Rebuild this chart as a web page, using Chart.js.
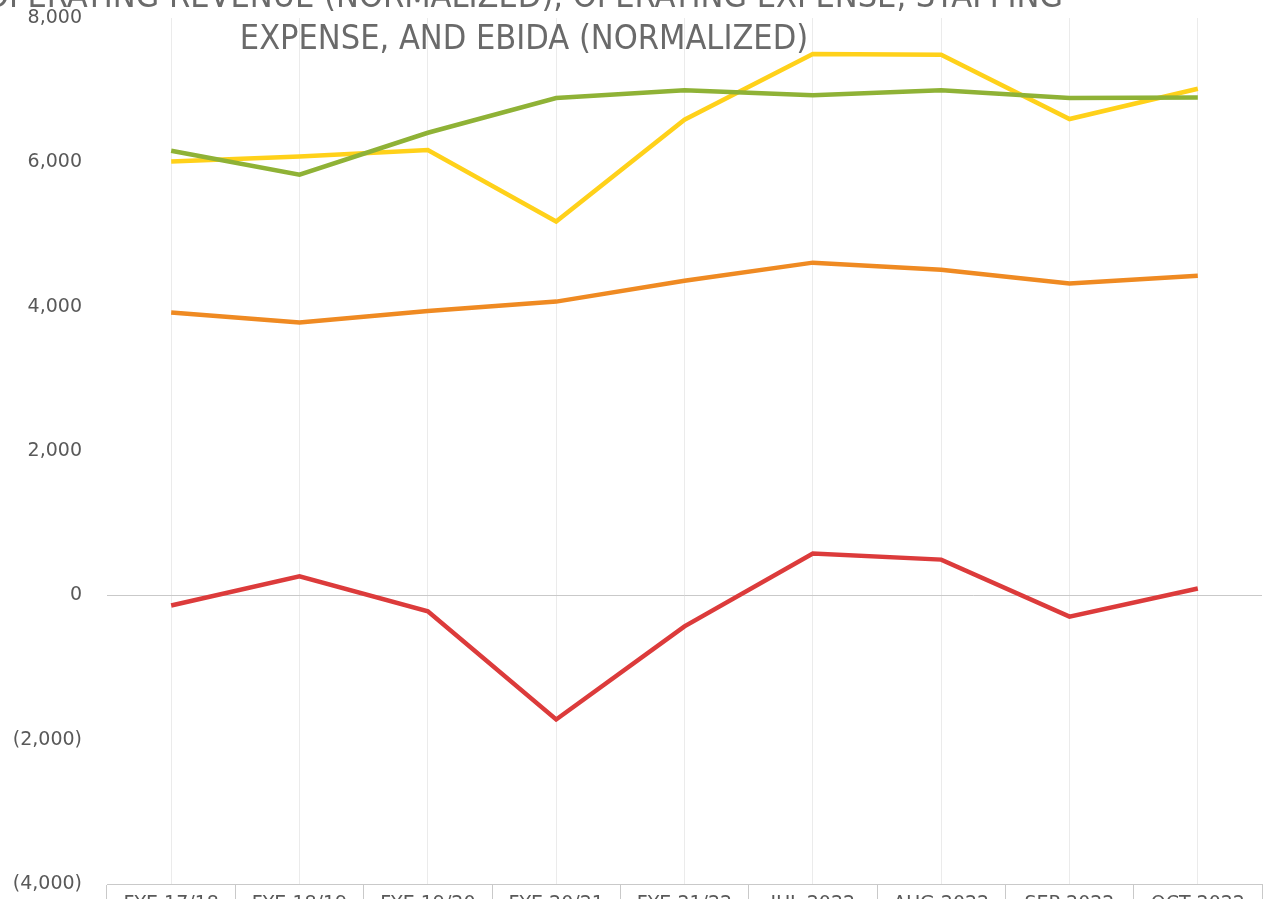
<!DOCTYPE html>
<html>
<head>
<meta charset="utf-8">
<script src="https://cdn.jsdelivr.net/npm/chart.js@4.4.1/dist/chart.umd.min.js"></script>
<style>
  html, body { margin: 0; padding: 0; background: #fff; overflow: hidden; }
  #wrap { position: relative; width: 1269px; height: 899px; overflow: hidden; }
  #title {
    position: absolute; top: -26px; left: -176px; width: 1400px;
    text-align: center; line-height: 42px;
    font-family: "Liberation Sans Narrow", "DejaVu Sans Condensed", sans-serif;
    font-size: 34px; color: #6a6a6a; white-space: nowrap;
  }
  canvas { position: absolute; top: 0; left: 0; }
</style>
</head>
<body>
<div id="wrap">
  <canvas id="chart" width="1269" height="920"></canvas>
  <div id="title">OPERATING REVENUE (NORMALIZED), OPERATING EXPENSE, STAFFING<br>EXPENSE, AND EBIDA (NORMALIZED)</div>
</div>
<script>
  // categories + series
  var periods = ['FYE 17/18', 'FYE 18/19', 'FYE 19/20', 'FYE 20/21', 'FYE 21/22',
                 'JUL 2022', 'AUG 2022', 'SEP 2022', 'OCT 2022'];
  var revenue  = [6010, 6080, 6170, 5180, 6590, 7500, 7490, 6600, 7020];
  var opExpense = [6160, 5830, 6410, 6890, 7000, 6930, 7000, 6890, 6900];
  var staffing = [3920, 3780, 3940, 4070, 4360, 4610, 4510, 4320, 4430];
  var ebida    = [-140, 265, -220, -1720, -430, 580, 495, -295, 95];
  var yTicks   = [-4000, -2000, 0, 2000, 4000, 6000, 8000];

  var labelFont = { family: 'DejaVu Sans', size: 19 };
  var gray = '#595959';
  var axisLine = '#c9c9c9';

  function fmt(v) {
    var s = Math.abs(v).toLocaleString('en-US');
    return v < 0 ? '(' + s + ')' : s;
  }

  function line(label, data, color) {
    return {
      label: label, data: data, borderColor: color, backgroundColor: color,
      borderWidth: 4.5, pointRadius: 0, tension: 0, fill: false
    };
  }

  new Chart(document.getElementById('chart').getContext('2d'), {
    type: 'line',
    data: {
      labels: periods,
      datasets: [
        line('Staffing Expense', staffing, '#ef8a22'),
        line('Operating Expense', opExpense, '#8fb236'),
        line('Operating Revenue (Normalized)', revenue, '#ffd11a'),
        line('EBIDA (Normalized)', ebida, '#dc3b3b')
      ]
    },
    options: {
      responsive: false,
      animation: false,
      layout: { padding: { top: 18, right: 7, bottom: 0, left: 0 } },
      plugins: { legend: { display: false }, title: { display: false }, tooltip: { enabled: false } },
      scales: {
        x: {
          offset: true,
          grid: { offset: true, color: 'rgba(0,0,0,0)', tickColor: axisLine, tickLength: 22 },
          border: { display: true, color: axisLine },
          ticks: { font: labelFont, color: gray, padding: -13, maxRotation: 0, autoSkip: false },
          afterFit: function (s) { s.height = 36; }
        },
        // faint vertical lines through each period
        xc: {
          type: 'category', position: 'top', offset: true,
          grid: { offset: false, color: 'rgba(0,0,0,0.08)', drawTicks: false },
          border: { display: false },
          ticks: { display: false },
          afterFit: function (s) { s.height = 0; }
        },
        y: {
          min: -4000, max: 8000,
          afterBuildTicks: function (s) { s.ticks = yTicks.map(function (v) { return { value: v }; }); },
          grid: {
            tickLength: 22, tickColor: 'rgba(0,0,0,0)',
            color: function (c) { return c.tick && c.tick.value === 0 ? axisLine : 'rgba(0,0,0,0)'; }
          },
          border: { display: false },
          ticks: { font: labelFont, color: gray, padding: 3, callback: function (v) { return fmt(v); } },
          afterFit: function (s) { s.width = 107; }
        }
      }
    }
  });
</script>
</body>
</html>
